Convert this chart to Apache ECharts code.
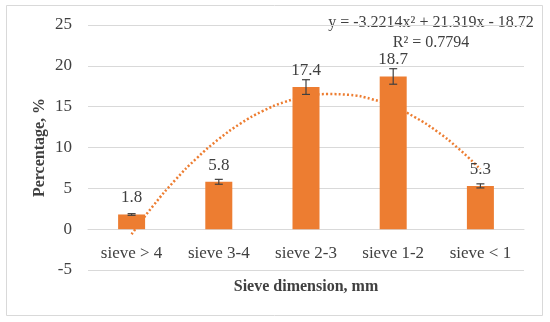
<!DOCTYPE html>
<html><head><meta charset="utf-8">
<script src="https://cdn.jsdelivr.net/npm/echarts@6/dist/echarts.min.js"></script>
<style>html,body{margin:0;padding:0;background:#fff}#c{width:550px;height:322px}</style>
</head><body><div id="c"></div>
<script>
const categories = ['sieve > 4', 'sieve 3-4', 'sieve 2-3', 'sieve 1-2', 'sieve < 1'];
const values = [1.8, 5.8, 17.4, 18.7, 5.3];
const errors = [0.1, 0.3, 0.9, 0.95, 0.25];
const trendX = [1, 1.25, 1.5, 1.75, 2, 2.25, 2.5, 2.75, 3, 3.25, 3.5, 3.75, 4, 4.25, 4.5, 4.75, 5];
const trendY = [-0.62, 2.90, 6.01, 8.72, 11.03, 12.94, 14.44, 15.55, 16.24, 16.54, 16.44, 15.93, 15.02, 13.70, 11.99, 9.86, 7.34];
const yTicks = { min: -5, max: 25, interval: 5 };
const equationText = 'y = -3.2214x² + 21.319x - 18.72';
const r2Text = 'R² = 0.7794';

const FONT = '"Liberation Serif", "DejaVu Serif", serif';
const TXT = '#404040';
const GRID = { left: 88, right: 26, top: 25, bottom: 52 };
const plotH = 322 - GRID.top - GRID.bottom;
const zeroOffset = -plotH * (0 - yTicks.min) / (yTicks.max - yTicks.min);

const chart = echarts.init(document.getElementById('c'), null, { renderer: 'canvas' });
chart.setOption({
  animation: false,
  backgroundColor: '#fff',
  textStyle: { fontFamily: FONT },
  grid: Object.assign({ containLabel: false, outerBoundsMode: 'none' }, GRID),
  xAxis: [{
    type: 'category', data: categories, offset: zeroOffset,
    axisLine: { onZero: false, lineStyle: { color: '#d9d9d9', width: 1 } },
    axisTick: { show: false },
    axisLabel: { margin: 16, fontFamily: FONT, fontSize: 17, color: TXT },
    name: 'Sieve dimension, mm', nameLocation: 'middle', nameGap: 50, nameMoveOverlap: false,
    nameTextStyle: { fontFamily: FONT, fontSize: 16, fontWeight: 'bold', color: TXT }
  }, {
    type: 'value', min: 0.5, max: 5.5, show: false
  }],
  yAxis: {
    type: 'value', min: yTicks.min, max: yTicks.max, interval: yTicks.interval,
    axisLine: { show: false }, axisTick: { show: false },
    splitLine: { lineStyle: { color: '#d9d9d9', width: 1 } },
    axisLabel: { margin: 16, fontFamily: FONT, fontSize: 17, color: TXT },
    name: 'Percentage, %', nameLocation: 'middle', nameGap: 40, nameRotate: 90, nameMoveOverlap: false,
    nameTextStyle: { fontFamily: FONT, fontSize: 16, fontWeight: 'bold', color: TXT }
  },
  graphic: [
    { type: 'rect', shape: { x: 6.5, y: 5.5, width: 536, height: 310 }, style: { fill: 'none', stroke: '#d9d9d9', lineWidth: 1 }, z: -1 },
    { type: 'text', x: 431, y: 23, style: { text: equationText, font: '16px ' + FONT, fill: TXT, textAlign: 'center', textVerticalAlign: 'middle' } },
    { type: 'text', x: 431, y: 43, style: { text: r2Text, font: '16px ' + FONT, fill: TXT, textAlign: 'center', textVerticalAlign: 'middle' } }
  ],
  series: [{
    type: 'line', xAxisIndex: 1, smooth: true, symbol: 'none', z: 1,
    data: trendX.map((x, i) => [x, trendY[i]]),
    lineStyle: { color: '#ED7D31', width: 2.5, type: [2, 2.2] }
  }, {
    type: 'bar', data: values, barWidth: 27, xAxisIndex: 0, z: 2,
    itemStyle: { color: '#ED7D31' },
    label: { show: true, position: 'top', distance: 8, fontFamily: FONT, fontSize: 17, color: TXT }
  }, {
    type: 'custom', xAxisIndex: 0, z: 5,
    data: values.map((v, i) => [i, v - errors[i], v + errors[i]]),
    renderItem: function (params, api) {
      const i = api.value(0);
      const lo = api.coord([i, api.value(1)]);
      const hi = api.coord([i, api.value(2)]);
      const w = 4;
      const st = { stroke: '#404040', lineWidth: 1.2 };
      return { type: 'group', children: [
        { type: 'line', shape: { x1: lo[0], y1: lo[1], x2: hi[0], y2: hi[1] }, style: st },
        { type: 'line', shape: { x1: lo[0] - w, y1: lo[1], x2: lo[0] + w, y2: lo[1] }, style: st },
        { type: 'line', shape: { x1: hi[0] - w, y1: hi[1], x2: hi[0] + w, y2: hi[1] }, style: st }
      ]};
    }
  }]
});
</script></body></html>
